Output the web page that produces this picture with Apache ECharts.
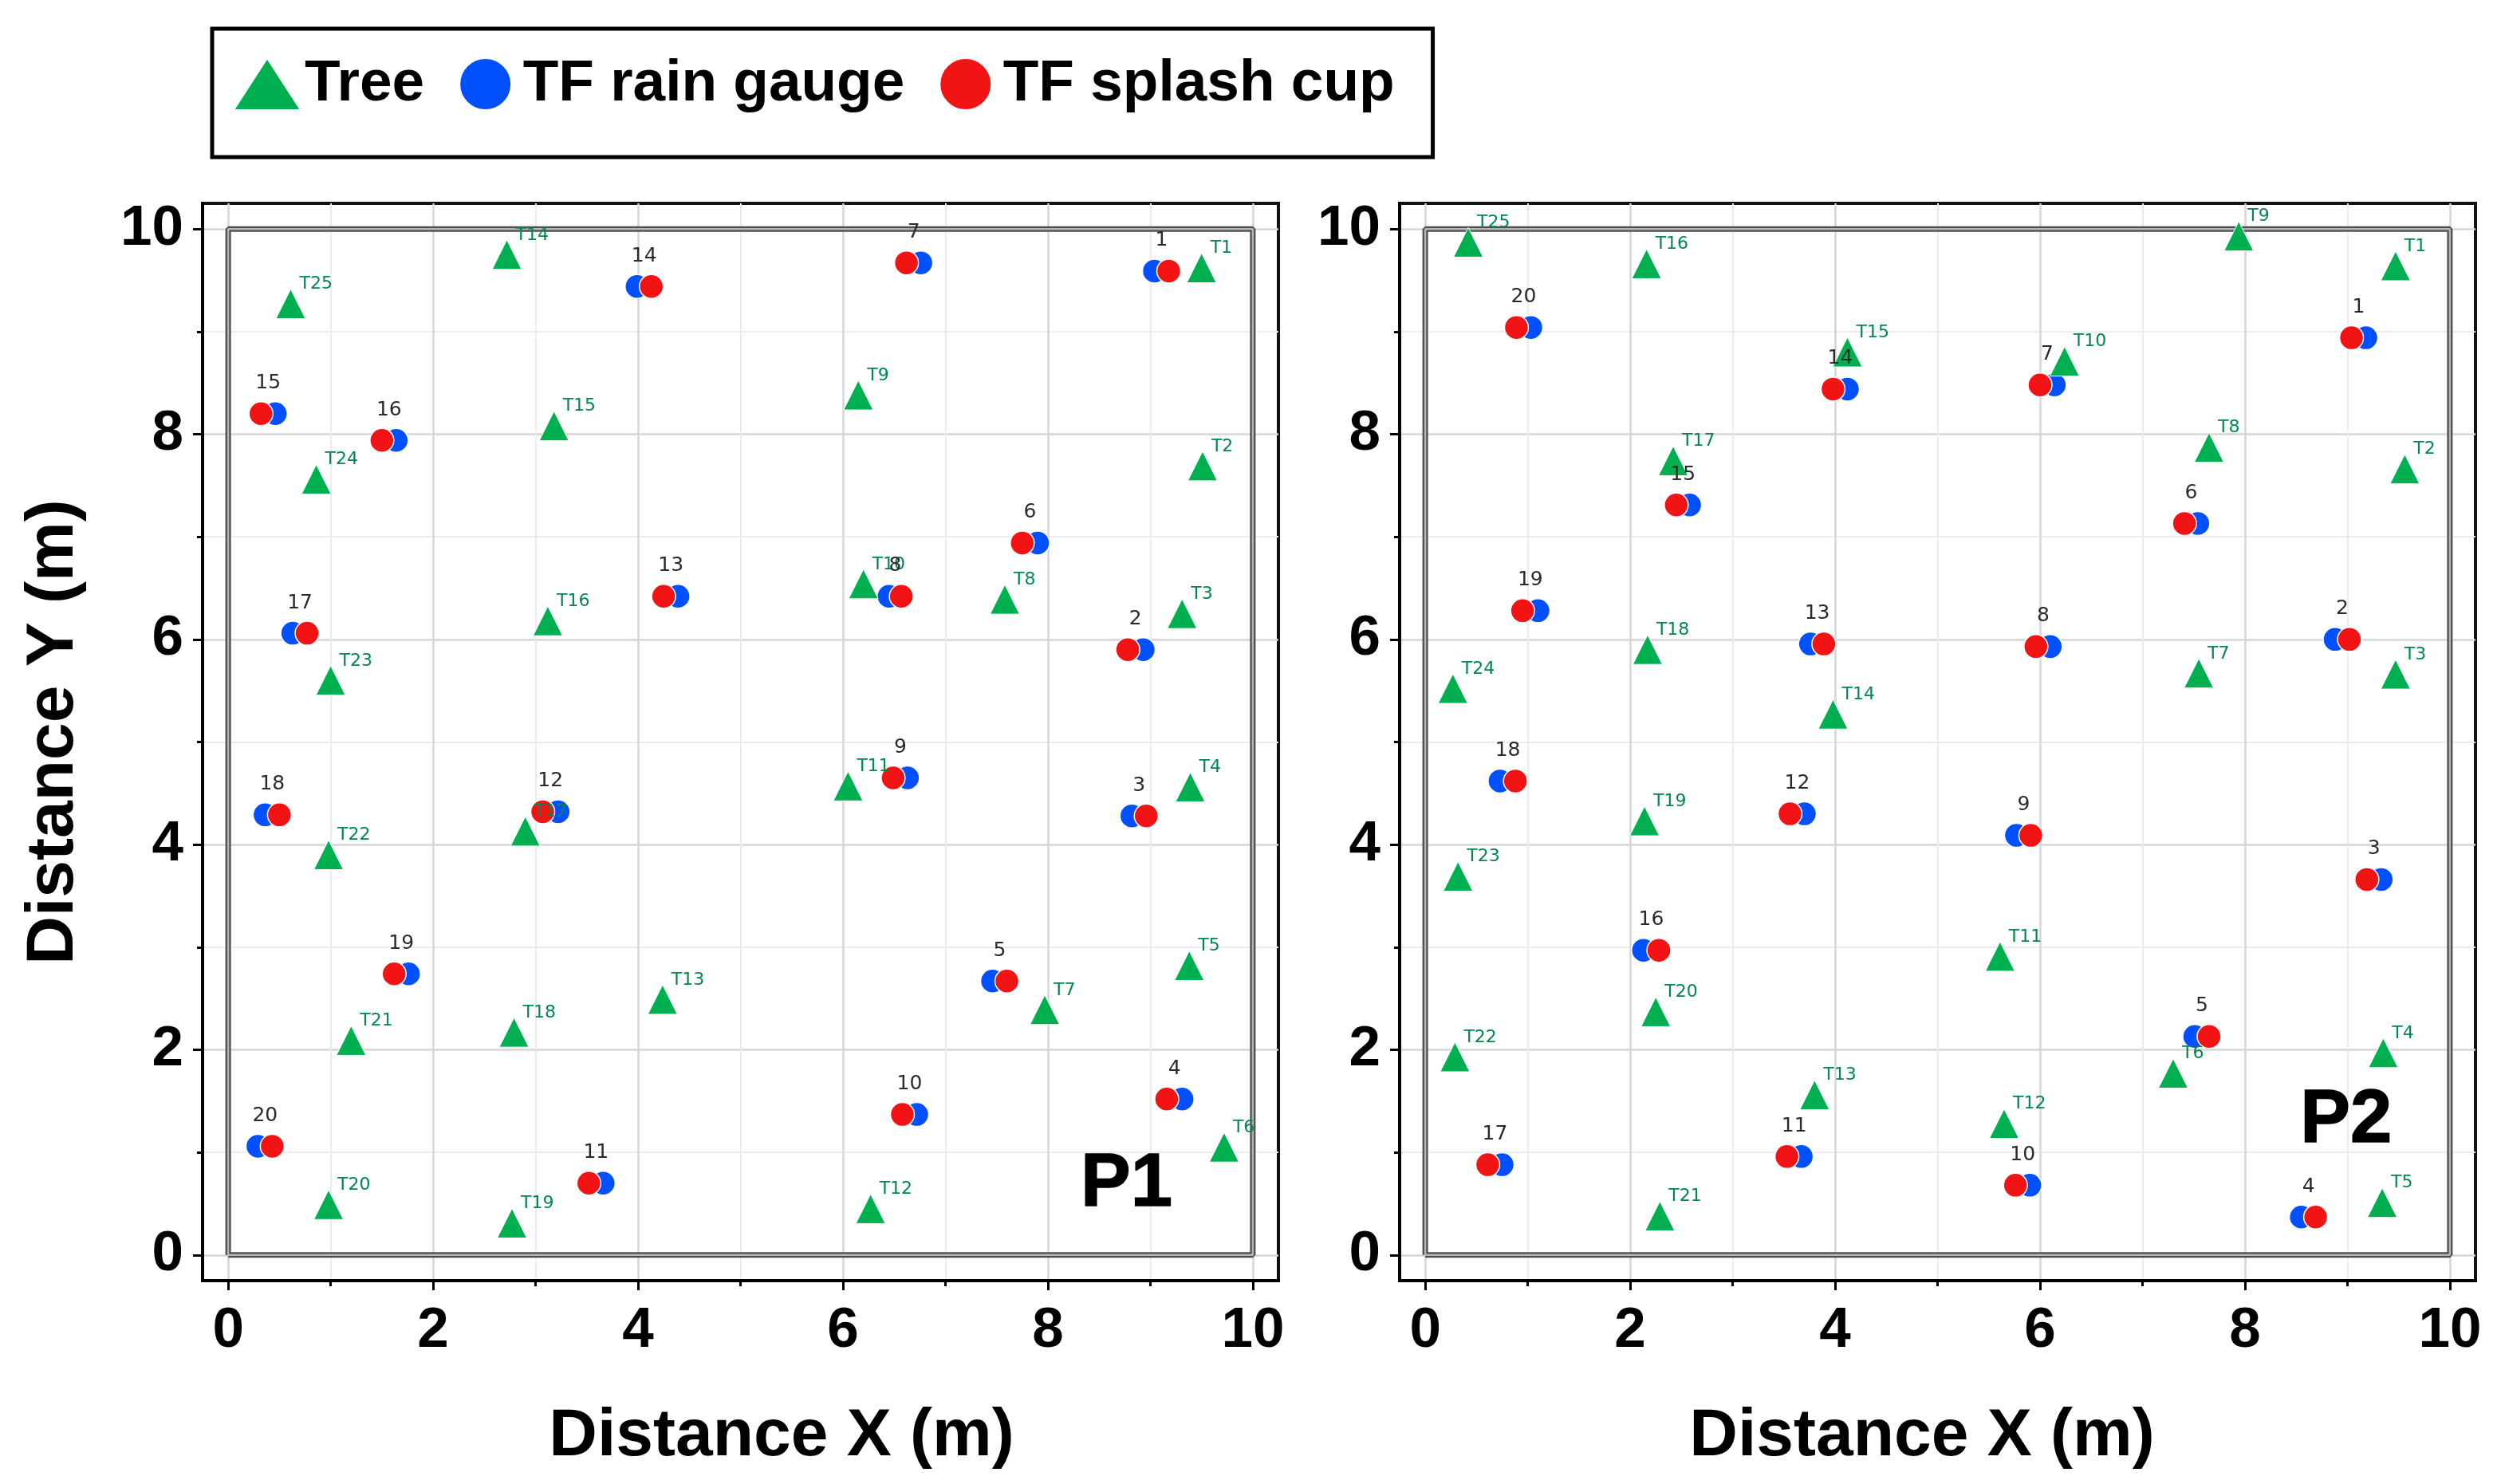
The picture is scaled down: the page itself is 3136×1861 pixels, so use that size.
<!DOCTYPE html>
<html>
<head>
<meta charset="utf-8">
<title>Tree and throughfall collector positions</title>
<script src="https://cdn.jsdelivr.net/npm/echarts@6/dist/echarts.min.js"></script>
<style>
  html, body { margin: 0; padding: 0; background: #fff; }
  #main { width: 3136px; height: 1861px; }
</style>
</head>
<body>
<div id="main"></div>
<script>
// ---- data (metres) ----
var treeNames = ['T1', 'T2', 'T3', 'T4', 'T5', 'T6', 'T7', 'T8', 'T9', 'T10', 'T11', 'T12', 'T13',
  'T14', 'T15', 'T16', 'T17', 'T18', 'T19', 'T20', 'T21', 'T22', 'T23', 'T24', 'T25'];
var gaugeNames = ['1', '2', '3', '4', '5', '6', '7', '8', '9', '10',
  '11', '12', '13', '14', '15', '16', '17', '18', '19', '20'];

// plot P1
var p1TreeX = [9.50, 9.51, 9.31, 9.39, 9.38, 9.72, 7.97, 7.58, 6.15, 6.20, 6.05, 6.27, 4.24,
  2.72, 3.18, 3.12, 2.90, 2.79, 2.77, 0.98, 1.20, 0.98, 1.00, 0.86, 0.61];
var p1TreeY = [9.62, 7.69, 6.25, 4.56, 2.82, 1.05, 2.39, 6.39, 8.38, 6.54, 4.57, 0.45, 2.49,
  9.75, 8.08, 6.18, 4.13, 2.17, 0.31, 0.49, 2.09, 3.90, 5.60, 7.56, 9.27];
var p1RainX = [9.04, 8.93, 8.82, 9.31, 7.46, 7.90, 6.76, 6.45, 6.63, 6.72,
  3.66, 3.22, 4.39, 3.99, 0.46, 1.64, 0.63, 0.36, 1.76, 0.29];
var p1CupX = [9.18, 8.78, 8.96, 9.16, 7.60, 7.75, 6.62, 6.57, 6.49, 6.58,
  3.52, 3.07, 4.25, 4.13, 0.32, 1.50, 0.77, 0.50, 1.62, 0.43];
var p1GaugeY = [9.59, 5.90, 4.28, 1.52, 2.67, 6.94, 9.67, 6.42, 4.65, 1.37,
  0.70, 4.32, 6.42, 9.44, 8.20, 7.94, 6.06, 4.29, 2.74, 1.06];

// plot P2
var p2TreeX = [9.47, 9.56, 9.47, 9.35, 9.34, 7.30, 7.55, 7.65, 7.94, 6.24, 5.61, 5.65, 3.80,
  3.98, 4.12, 2.16, 2.42, 2.17, 2.14, 2.25, 2.29, 0.29, 0.32, 0.27, 0.42];
var p2TreeY = [9.64, 7.66, 5.66, 1.97, 0.51, 1.77, 5.67, 7.87, 9.93, 8.71, 2.91, 1.28, 1.56,
  5.27, 8.80, 9.66, 7.74, 5.90, 4.23, 2.37, 0.38, 1.93, 3.69, 5.52, 9.87];
var p2RainX = [9.18, 8.88, 9.33, 8.55, 7.51, 7.54, 6.14, 6.10, 5.77, 5.90,
  3.67, 3.70, 3.76, 4.12, 2.58, 2.13, 0.75, 0.73, 1.10, 1.03];
var p2CupX = [9.04, 9.02, 9.19, 8.69, 7.65, 7.41, 6.00, 5.96, 5.91, 5.76,
  3.53, 3.56, 3.89, 3.98, 2.45, 2.28, 0.61, 0.88, 0.95, 0.89];
var p2GaugeY = [8.94, 6.00, 3.66, 0.37, 2.13, 7.13, 8.48, 5.93, 4.09, 0.68,
  0.96, 4.30, 5.955, 8.44, 7.31, 2.97, 0.88, 4.62, 6.28, 9.04];

var plotTags = ['P1', 'P2'];
var tagX = [8.32, 8.54];
var tagY = [0.685, 1.30];

var majorTicks = [0, 2, 4, 6, 8, 10];
var minorTicks = [1, 3, 5, 7, 9];
var axisMin = -0.25, axisMax = 10.25;
var plotBox = [0, 10];

// ---- styling ----
var FONT = '"Liberation Sans", Arial, sans-serif';
var LABEL_FONT = '"DejaVu Sans", sans-serif';
var GREEN = '#00b050', BLUE = '#0050ff', RED = '#f21414';

var panels = [
  { treeX: p1TreeX, treeY: p1TreeY, rainX: p1RainX, cupX: p1CupX, gaugeY: p1GaugeY, left: 254 },
  { treeX: p2TreeX, treeY: p2TreeY, rainX: p2RainX, cupX: p2CupX, gaugeY: p2GaugeY, left: 1755 }
];

var grids = [], xAxes = [], yAxes = [], series = [];

function pts(xs, ys, names) {
  return xs.map(function (x, i) { return { name: names[i], value: [x, ys[i]] }; });
}

panels.forEach(function (p, g) {
  grids.push({
    left: p.left, top: 255, width: 1349, height: 1351,
    show: true, borderColor: '#111', borderWidth: 4, backgroundColor: '#fff'
  });

  // major axis (labels, long ticks, darker grid) and minor axis (short ticks, light grid)
  [0, 1].forEach(function (minor) {
    var common = {
      gridIndex: g, type: 'value', min: axisMin, max: axisMax,
      axisLine: { show: !minor, onZero: false, lineStyle: { color: '#000', width: 4 } },
      axisTick: {
        show: true, customValues: minor ? minorTicks : majorTicks,
        length: minor ? 7 : 12, lineStyle: { color: '#000', width: 3 }
      },
      axisLabel: {
        show: !minor, customValues: majorTicks, color: '#000',
        fontSize: 71, fontWeight: 'bold', fontFamily: FONT
      },
      splitLine: { show: true, lineStyle: { color: minor ? '#ececec' : '#d6d6d6', width: minor ? 2 : 2.5 } }
    };
    var xa = Object.assign({}, common, { position: 'bottom' });
    xa.axisLabel = Object.assign({}, common.axisLabel, { margin: 28 });
    var ya = Object.assign({}, common, { position: 'left' });
    ya.axisLabel = Object.assign({}, common.axisLabel, { margin: 24 });
    xAxes.push(xa);
    yAxes.push(ya);
  });

  var xi = 2 * g, yi = 2 * g;
  var box = [[plotBox[0], plotBox[0]], [plotBox[1], plotBox[0]], [plotBox[1], plotBox[1]],
    [plotBox[0], plotBox[1]], [plotBox[0], plotBox[0]]];

  // plot boundary, drawn as a grey double line
  series.push({
    type: 'line', xAxisIndex: xi, yAxisIndex: yi, data: box, symbol: 'none', silent: true, z: 1,
    lineStyle: { color: '#4d4d4d', width: 7 }, animation: false
  });
  series.push({
    type: 'line', xAxisIndex: xi, yAxisIndex: yi, data: box, symbol: 'none', silent: true, z: 1,
    lineStyle: { color: '#b4b4b4', width: 2.5 }, animation: false
  });

  series.push({
    name: 'TF rain gauge', type: 'scatter', xAxisIndex: xi, yAxisIndex: yi,
    symbol: 'circle', symbolSize: 30,
    itemStyle: { color: BLUE, borderColor: '#fff', borderWidth: 1.5, opacity: 1 },
    data: pts(p.rainX, p.gaugeY, gaugeNames)
  });
  series.push({
    name: 'TF splash cup', type: 'scatter', xAxisIndex: xi, yAxisIndex: yi,
    symbol: 'circle', symbolSize: 30,
    itemStyle: { color: RED, borderColor: '#fff', borderWidth: 1.5, opacity: 1 },
    data: pts(p.cupX, p.gaugeY, gaugeNames)
  });
  series.push({
    name: 'Tree', type: 'scatter', xAxisIndex: xi, yAxisIndex: yi,
    symbol: 'triangle', symbolSize: 37,
    itemStyle: { color: GREEN, borderColor: '#fff', borderWidth: 1, opacity: 1 },
    label: {
      show: true, position: 'inside', align: 'left', verticalAlign: 'middle',
      offset: [11, -24.5], formatter: '{b}', color: '#00884a',
      fontSize: 22, fontFamily: LABEL_FONT, textBorderWidth: 0
    },
    data: pts(p.treeX, p.treeY, treeNames)
  });

  // collector numbers, centred over each gauge/cup pair
  var midX = p.rainX.map(function (x, i) { return (x + p.cupX[i]) / 2; });
  series.push({
    name: 'ids' + g, type: 'scatter', xAxisIndex: xi, yAxisIndex: yi, silent: true,
    symbolSize: 1, itemStyle: { color: 'rgba(0,0,0,0)' },
    label: {
      show: true, position: 'inside', align: 'center', verticalAlign: 'middle',
      offset: [0, -38], formatter: '{b}', color: '#2a2a2a', opacity: 1,
      fontSize: 25, fontFamily: LABEL_FONT, textBorderWidth: 0
    },
    data: pts(midX, p.gaugeY, gaugeNames)
  });

  series.push({
    name: 'tag' + g, type: 'scatter', xAxisIndex: xi, yAxisIndex: yi, silent: true,
    symbolSize: 1, itemStyle: { color: 'rgba(0,0,0,0)' },
    label: {
      show: true, position: 'inside', align: 'left', verticalAlign: 'middle', opacity: 1,
      formatter: '{b}', color: '#000', fontSize: 94, fontWeight: 'bold', fontFamily: FONT,
      textBorderColor: '#000', textBorderWidth: 1.5
    },
    data: [{ name: plotTags[g], value: [tagX[g], tagY[g]] }]
  });
});

var chart = echarts.init(document.getElementById('main'), null, { renderer: 'canvas' });
chart.setOption({
  animation: false,
  backgroundColor: '#fff',
  grid: grids,
  xAxis: xAxes,
  yAxis: yAxes,
  legend: {
    data: ['Tree', 'TF rain gauge', 'TF splash cup'],
    left: 266, top: 36, orient: 'horizontal',
    itemWidth: 84, itemHeight: 65, itemGap: 43,
    padding: [33, 48, 55, 26],
    borderColor: '#000', borderWidth: 5, backgroundColor: '#fff',
    selectedMode: false,
    textStyle: { fontSize: 73, fontWeight: 'bold', fontFamily: FONT, color: '#000' }
  },
  graphic: [
    { type: 'text', x: 980, y: 1802, silent: true,
      style: { text: 'Distance X (m)', font: 'bold 84px ' + FONT, fill: '#000', align: 'center', verticalAlign: 'middle' } },
    { type: 'text', x: 2410, y: 1802, silent: true,
      style: { text: 'Distance X (m)', font: 'bold 84px ' + FONT, fill: '#000', align: 'center', verticalAlign: 'middle' } },
    { type: 'text', x: 68, y: 918, rotation: Math.PI / 2, silent: true,
      style: { text: 'Distance Y (m)', font: 'bold 84px ' + FONT, fill: '#000', align: 'center', verticalAlign: 'middle' } }
  ],
  series: series
});
</script>
</body>
</html>
